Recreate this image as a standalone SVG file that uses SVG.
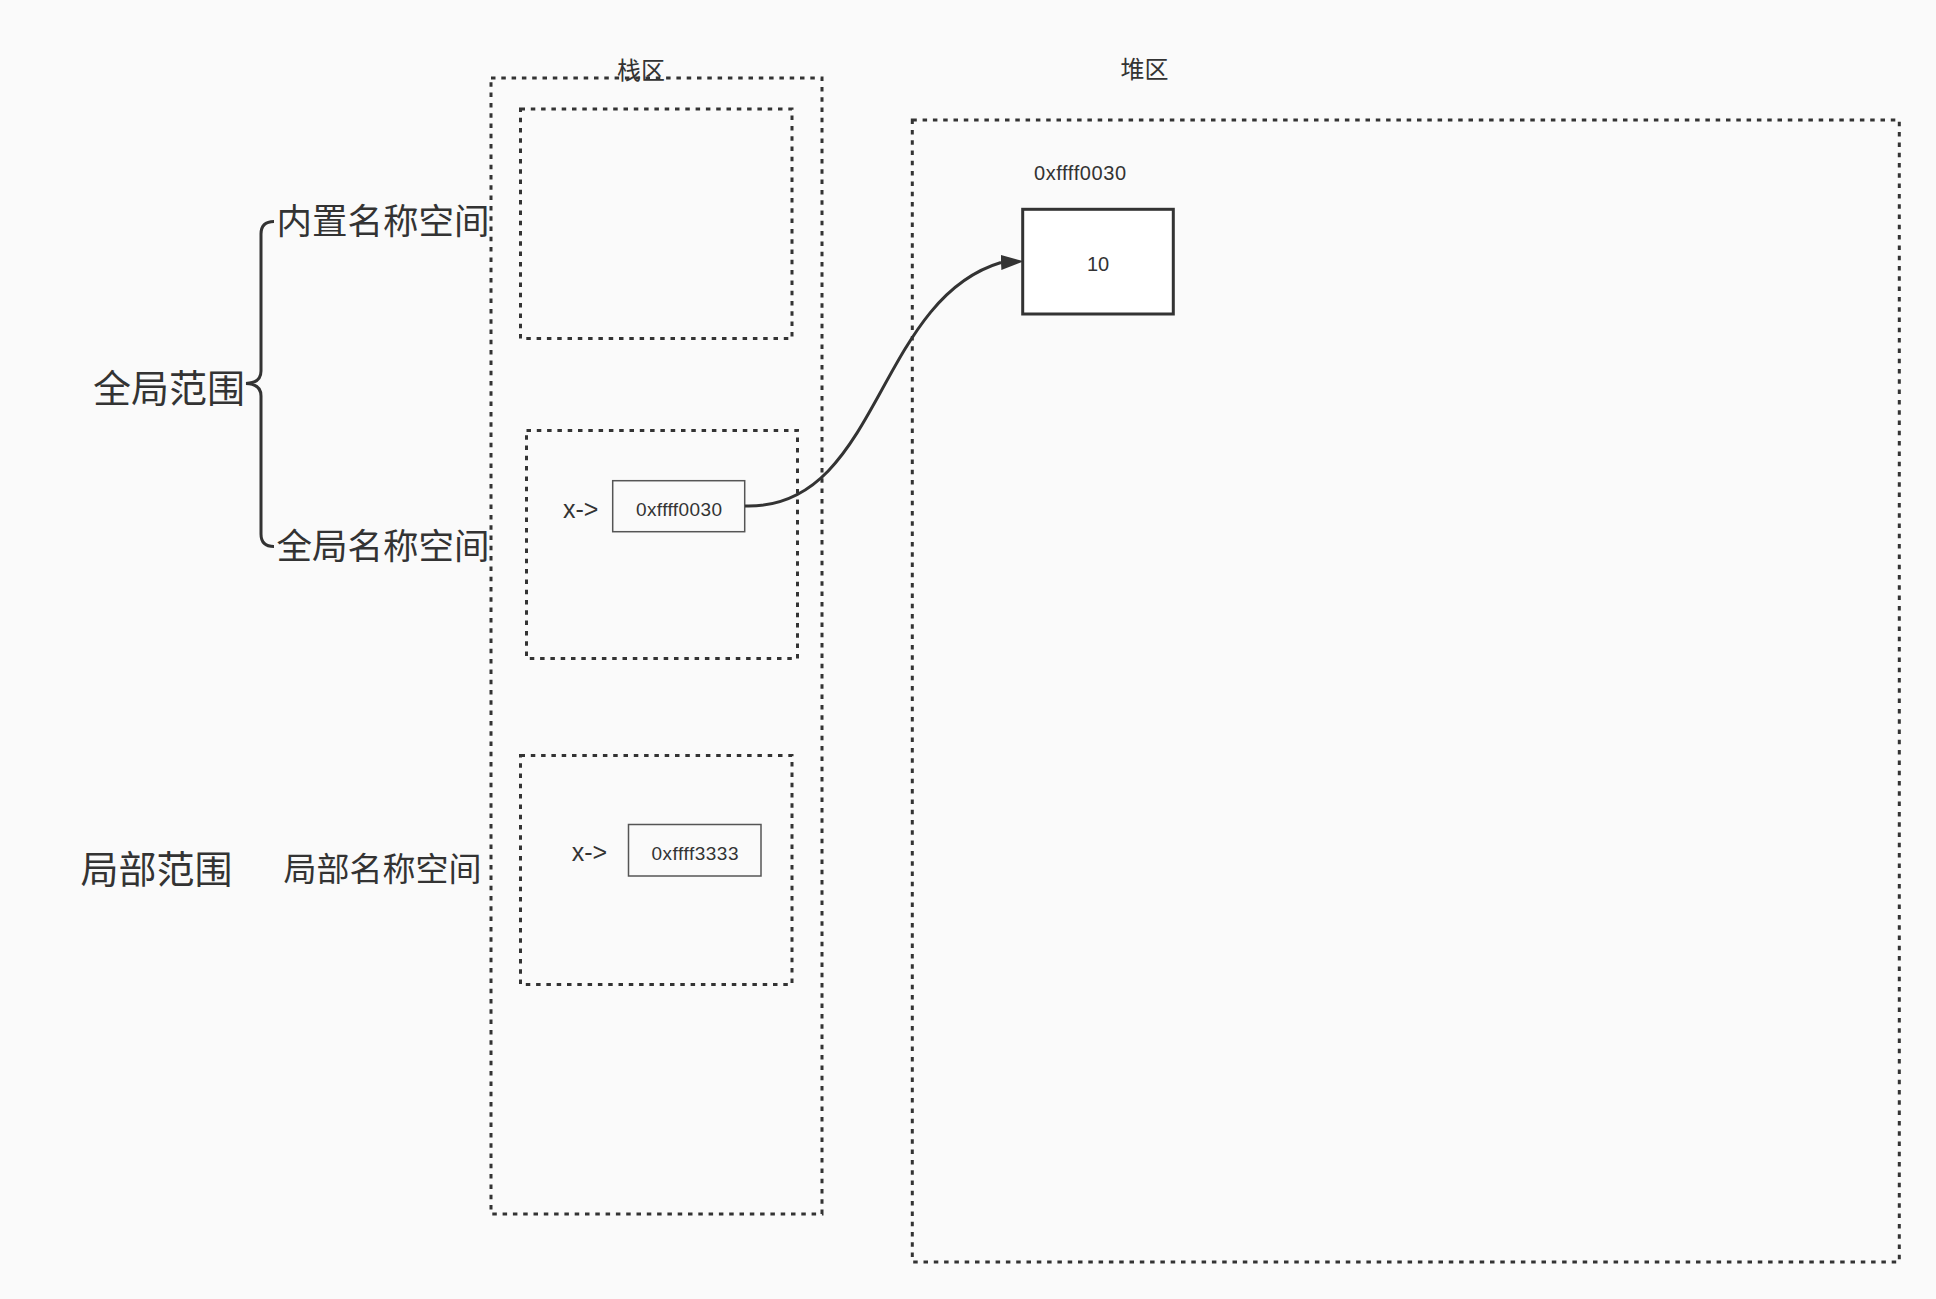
<svg xmlns="http://www.w3.org/2000/svg" width="1936" height="1299" viewBox="0 0 1936 1299">
  <style>
    .dash { fill: none; stroke: #333333; stroke-width: 3; stroke-dasharray: 4.5 5.8; }
    .cell { fill: #fafafa; stroke: #555555; stroke-width: 1.5; }
    .heapcell { fill: #ffffff; stroke: #333333; stroke-width: 3; }
    .cjk { font-family: "Noto Sans CJK SC", "Noto Sans", sans-serif; fill: #333333; text-anchor: middle; }
    .lat { font-family: "Liberation Sans", Arial, sans-serif; fill: #333333; text-anchor: middle; }
    .wire { fill: none; stroke: #333333; stroke-width: 3; }
  </style>
  <defs>
    <marker id="arrow" markerUnits="userSpaceOnUse" viewBox="0 0 23 15" refX="0" refY="7.5" markerWidth="23" markerHeight="15" orient="-3">
      <path d="M0,0 L23,7.5 L0,15 Z" fill="#333333"/>
    </marker>
  </defs>
  <rect x="0" y="0" width="1936" height="1299" fill="#fafafa"/>

  <g id="stack">
    <rect class="dash" x="491" y="78" width="331" height="1136"/>
    <text class="cjk" x="641" y="79" font-size="24">栈区</text>
  </g>
  <g id="builtin-ns-box">
    <rect class="dash" x="520.5" y="109" width="271.5" height="229.5"/>
  </g>
  <g id="global-ns-box">
    <rect class="dash" x="526.5" y="430.5" width="271" height="228"/>
    <text class="lat" x="580.7" y="518.3" font-size="25">x-&gt;</text>
  </g>
  <g id="global-x-cell">
    <rect class="cell" x="612.7" y="480.7" width="132" height="51"/>
    <text class="lat" x="679" y="516" font-size="19" textLength="86" lengthAdjust="spacing">0xffff0030</text>
  </g>
  <g id="local-ns-box">
    <rect class="dash" x="520.5" y="755.5" width="271.5" height="229"/>
    <text class="lat" x="589.5" y="860.5" font-size="25">x-&gt;</text>
  </g>
  <g id="local-x-cell">
    <rect class="cell" x="628.5" y="824.5" width="132.5" height="51.5"/>
    <text class="lat" x="695" y="859.5" font-size="19" textLength="87" lengthAdjust="spacing">0xffff3333</text>
  </g>

  <g id="heap">
    <rect class="dash" x="912.3" y="120" width="987" height="1142"/>
    <text class="cjk" x="1144.5" y="78" font-size="24">堆区</text>
  </g>
  <g id="heap-obj">
    <text class="lat" x="1080" y="180" font-size="20" textLength="92" lengthAdjust="spacing">0xffff0030</text>
    <rect class="heapcell" x="1022.7" y="209.3" width="150.6" height="104.7"/>
    <text class="lat" x="1098" y="271" font-size="20">10</text>
  </g>

  <g id="global-scope">
    <text class="cjk" x="169" y="402" font-size="38">全局范围</text>
  </g>
  <g id="builtin-ns">
    <text class="cjk" x="383" y="233.5" font-size="35.5">内置名称空间</text>
  </g>
  <g id="global-ns">
    <text class="cjk" x="383" y="558.5" font-size="35.5">全局名称空间</text>
  </g>
  <g id="local-scope">
    <text class="cjk" x="156.5" y="882.5" font-size="38">局部范围</text>
  </g>
  <g id="local-ns">
    <text class="cjk" x="382.5" y="881" font-size="33">局部名称空间</text>
  </g>

  <g id="connectors">
    <path class="wire" d="M274,221.5 Q261,221.5 261,234 L261,371 Q261,383 246,383.5 Q261,384 261,396 L261,534 Q261,546.5 274,546.5"/>
    <path class="wire" d="M745,506 C880,510 875,300 1001,262.5" marker-end="url(#arrow)"/>
  </g>
</svg>
